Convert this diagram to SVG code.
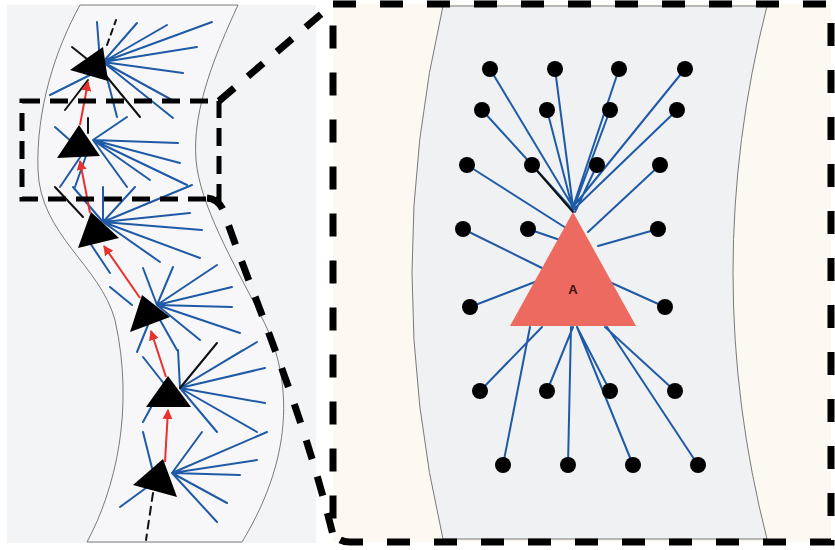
<svg xmlns="http://www.w3.org/2000/svg" width="835" height="550" viewBox="0 0 835 550">
  <defs>
    <style>
      .band { stroke: #7a7a7a; stroke-width: 1; }
      .dend { stroke: #1f5aa6; stroke-width: 2; stroke-linecap: round; fill: none; }
      .blk { stroke: #111; stroke-width: 2; stroke-linecap: round; fill: none; }
      .cell { fill: #000; }
      .axon { stroke: #e8312c; stroke-width: 2; fill: none; marker-end: url(#redHead); }
      .dot { fill: #000; }
      .zoomBox { fill: none; stroke: #000; stroke-width: 7; stroke-dasharray: 23 24; }
      .roi { fill: none; stroke: #000; stroke-width: 5; stroke-dasharray: 18 10; }
      .link { fill: none; stroke: #000; stroke-width: 7; stroke-dasharray: 20 18; }
    </style>
    <marker id="redHead" viewBox="0 0 10 10" refX="9" refY="5" markerWidth="5" markerHeight="5" orient="auto" markerUnits="strokeWidth">
      <path d="M0,0 L10,5 L0,10 z" fill="#e8312c"/>
    </marker>
  </defs>

  <!-- page backgrounds -->
  <rect x="0" y="0" width="835" height="550" fill="#ffffff"/>
  <rect x="7" y="5" width="309" height="538" fill="#f3f4f6"/>
  <rect x="333" y="4" width="498" height="538" fill="#fcf8f2"/>

  <!-- left overview: curved tissue band -->
  <path id="overview-band" class="band" fill="#f7f7f9"
        d="M80,5 L238,5 C215,55 192,110 196,160 C200,205 232,260 262,318 C290,372 298,450 242,542 L87,542 C115,490 135,410 115,320 C100,265 40,235 38,170 C36,110 55,50 80,5 Z"/>

  <!-- right detail: curved band -->
  <path id="detail-band" class="band" fill="#f0f1f3"
        d="M443,6 L767,6 Q699,273 767,539 L443,539 Q381,273 443,6 Z"/>

  <!-- dendrites of the overview cells -->
  <g id="dendrites-overview">
    <!-- cell 1 -->
    <path class="dend" d="M103,62 L212,22 M103,62 L167,25 M103,62 L137,23 M100,62 L97,22 M103,62 L197,47 M103,62 L183,73 M103,62 L172,100 M103,62 L173,118 M103,62 L117,117 M90,75 L50,95"/>
    <path class="blk" d="M72,47 L97,67 M65,110 L88,80 M140,117 L107,77"/>
    <path class="blk" d="M107,45 L116,20" stroke-dasharray="6 5"/>
    <!-- cell 2 -->
    <path class="dend" d="M93,140 L127,117 M93,140 L178,143 M93,140 L180,163 M93,140 L187,185 M93,140 L150,180 M93,140 L127,187 M55,127 L73,143 M85,150 L60,187 M88,150 L75,187"/>
    <path class="blk" d="M88,118 L88,133"/>
    <!-- cell 3 -->
    <path class="dend" d="M103,222 L73,187 M103,222 L103,187 M103,222 L135,187 M103,222 L192,185 M103,222 L190,213 M103,222 L202,230 M103,222 L200,258 M103,222 L160,262 M90,243 L110,273"/>
    <path class="blk" d="M55,187 L83,217"/>
    <!-- cell 4 -->
    <path class="dend" d="M157,305 L143,268 M157,305 L173,267 M157,305 L217,265 M157,305 L232,287 M157,305 L232,307 M157,305 L240,333 M157,305 L200,340 M110,287 L132,305 M150,320 L137,352 M160,320 L177,350"/>
    <!-- cell 5 -->
    <path class="dend" d="M180,388 L243,350 M180,388 L265,368 M180,388 L265,403 M180,388 L257,432 M180,388 L217,432 M180,388 L178,350 M165,385 L143,357 M155,400 L143,422 M180,388 L257,342"/>
    <path class="blk" d="M180,388 L217,343"/>
    <!-- cell 6 -->
    <path class="dend" d="M172,473 L202,432 M172,473 L267,432 M172,473 L257,460 M172,473 L240,475 M172,473 L227,503 M172,473 L217,522 M150,485 L120,507 M152,468 L143,432"/>
    <path class="blk" d="M153,493 L146,540" stroke-dasharray="8 6"/>
  </g>

  <!-- overview cells -->
  <g id="cell-1"><polygon class="cell" points="70,70 103,47 108,81"/></g>
  <g id="cell-2"><polygon class="cell" points="57,158 79,125 100,156"/></g>
  <g id="cell-3"><polygon class="cell" points="78,248 91,212 119,238"/></g>
  <g id="cell-4"><polygon class="cell" points="130,332 142,295 170,317"/></g>
  <g id="cell-5"><polygon class="cell" points="146,407 168,376 191,407"/></g>
  <g id="cell-6"><polygon class="cell" points="133,485 163,459 177,497"/></g>

  <!-- axon chain between overview cells -->
  <g id="axons">
    <line class="axon" x1="165" y1="462" x2="168" y2="410"/>
    <line class="axon" x1="166" y1="377" x2="151" y2="331"/>
    <line class="axon" x1="140" y1="298" x2="104" y2="246"/>
    <line class="axon" x1="90" y1="213" x2="80" y2="161"/>
    <line class="axon" x1="80" y1="125" x2="88" y2="82"/>
  </g>

  <!-- zoom region markers -->
  <g id="zoom-links">
    <rect class="roi" x="22" y="101" width="197" height="98"/>
    <path class="link" d="M219,101 L333,4"/>
    <path class="link" d="M207,198 Q219,199 224,212 C250,290 300,400 333,535"/>
    <path class="zoomBox" d="M333,4 H831 V542 H350 Q333,542 333,525 Z"/>
  </g>

  <!-- detail: inputs converging on cell A -->
  <g id="detail-inputs">
    <path class="dend" d="M490,69 L573,207 M555,69 L573,207 M619,69 L573,207 M685,69 L573,207
                          M482,110 L573,210 M547,110 L573,210 M610,110 L573,210 M677,110 L573,210
                          M467,165 L566,228 M597,165 L575,212 M660,165 L588,232
                          M463,229 L542,268 M528,229 L560,240 M658,229 L598,246
                          M470,307 L540,280 M665,307 L605,280
                          M480,391 L542,327 M547,391 L573,327 M610,391 L577,327 M675,391 L605,327
                          M503,465 L530,327 M568,465 L571,327 M633,465 L577,327 M698,465 L607,327"/>
    <path class="blk" d="M532,165 L573,212"/>
  </g>

  <g id="detail-dots">
    <circle class="dot" cx="490" cy="69" r="8"/>
    <circle class="dot" cx="555" cy="69" r="8"/>
    <circle class="dot" cx="619" cy="69" r="8"/>
    <circle class="dot" cx="685" cy="69" r="8"/>
    <circle class="dot" cx="482" cy="110" r="8"/>
    <circle class="dot" cx="547" cy="110" r="8"/>
    <circle class="dot" cx="610" cy="110" r="8"/>
    <circle class="dot" cx="677" cy="110" r="8"/>
    <circle class="dot" cx="467" cy="165" r="8"/>
    <circle class="dot" cx="532" cy="165" r="8"/>
    <circle class="dot" cx="597" cy="165" r="8"/>
    <circle class="dot" cx="660" cy="165" r="8"/>
    <circle class="dot" cx="463" cy="229" r="8"/>
    <circle class="dot" cx="528" cy="229" r="8"/>
    <circle class="dot" cx="658" cy="229" r="8"/>
    <circle class="dot" cx="470" cy="307" r="8"/>
    <circle class="dot" cx="665" cy="307" r="8"/>
    <circle class="dot" cx="480" cy="391" r="8"/>
    <circle class="dot" cx="547" cy="391" r="8"/>
    <circle class="dot" cx="610" cy="391" r="8"/>
    <circle class="dot" cx="675" cy="391" r="8"/>
    <circle class="dot" cx="503" cy="465" r="8"/>
    <circle class="dot" cx="568" cy="465" r="8"/>
    <circle class="dot" cx="633" cy="465" r="8"/>
    <circle class="dot" cx="698" cy="465" r="8"/>
  </g>

  <g id="cell-A">
    <polygon points="573,212 510,326 636,326" fill="#ec6a60"/>
    <text x="573" y="294" text-anchor="middle" font-family="Liberation Sans, Arial, sans-serif" font-size="13" font-weight="bold" fill="#3a1414">A</text>
  </g>
</svg>
